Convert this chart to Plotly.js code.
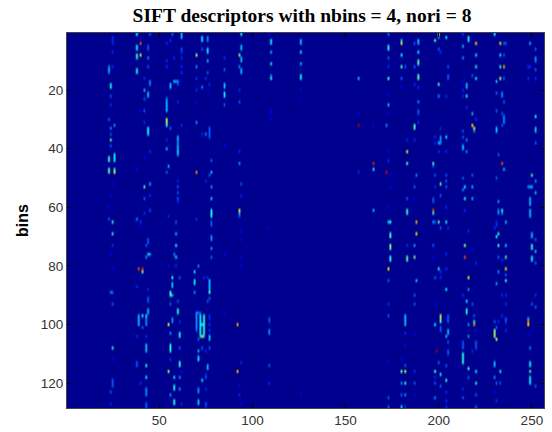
<!DOCTYPE html>
<html><head><meta charset="utf-8">
<script src="https://cdn.plot.ly/plotly-3.0.0.min.js"></script>
<style>html,body{margin:0;padding:0;background:#fff}</style></head>
<body><div id="c" style="width:552px;height:432px"></div>
<script>
const nCols = 256, nRows = 128;
const xTicks = [50,100,150,200,250];
const yTicks = [20,40,60,80,100,120];
// each spot: [descriptor column, bin row, value on a 0-10 scale]
const band23 = [[25,2,1.5],[25,3,1.5],[25,4,1.5],[25,7,1.5],[25,12,1.5],[23,12,2.5],[23,13,3],[23,14,2.5],[24,18,3.5],[24,19,4],[24,22,2],[24,25,1.5],[23,30,2],[26,32,2.5],[24,33,2.5],[24,35,2],[24,37,5],[24,39,2],[23,43,4],[23,44,4.2],[23,47,4.5],[23,48,4.5],[26,42,3.5],[26,43,3.5],[26,44,3.5],[26,47,3.5],[26,48,6],[25,52,1],[24,56,1],[23,60,1],[23,64,2],[25,65,4],[25,69,4],[25,73,1.5],[24,76,1],[25,81,1],[24,89,2.5],[25,89,2],[25,93,2],[25,108,4],[25,112,1],[25,119,2],[25,120,2],[25,121,2],[24,123,2],[24,127,1.5]];
const band38 = [[38,1,3.5],[38,5,3.5],[38,6,3.5],[38,8,4.5],[38,9,4],[38,13,4],[38,14,3.5],[40,4,8],[40,8,5.5],[44,5,2],[44,6,2],[44,9,2.5],[44,12,2],[45,1,2],[42,16,1.5],[45,17,2.5],[45,18,2.5],[42,20,3],[44,21,3],[44,22,3],[42,23,2],[42,27,2],[40,27,1],[42,31,1.5],[44,33,3.5],[44,34,4],[44,35,3.5],[45,41,1.5],[42,43,1],[38,47,1],[42,53,4.5],[45,52,3],[42,57,2],[45,56,1.5],[45,61,2],[42,62,1.5],[38,64,2.5],[40,65,1.5],[40,66,1],[44,71,2],[44,72,2],[43,73,2],[44,76,3],[45,76,3],[43,77,2.5],[39,81,8],[41,81,8.5],[41,82,4.5],[40,84,1],[38,87,1.5],[44,88,1.5],[44,91,2],[44,92,2],[44,95,3],[44,96,3],[41,97,3.5],[43,97,3.5],[39,97,3],[39,98,3],[39,99,3],[39,100,3],[43,98,2.5],[43,99,2.5],[43,100,2.5],[41,101,2],[38,104,1.5],[43,104,1.5],[43,107,3],[43,108,3],[43,109,3],[38,113,2],[38,114,2],[43,114,4],[43,118,3.5],[40,120,1.5],[43,122,2.5],[43,123,2.5],[43,124,2.5],[43,127,2],[43,128,2]];
const band54 = [[54,4,1.5],[54,10,1.5],[54,12,1.5],[54,23,2.5],[54,24,3],[54,25,3],[54,26,3],[54,27,3],[54,30,5.5],[54,31,5.5],[54,32,4],[54,37,1.5],[54,40,3],[55,46,3],[54,48,2],[56,18,3],[56,19,3],[56,3,1.5],[56,33,2],[57,1,2],[58,9,1.5],[58,17,3],[59,17,2.5],[60,17,2.5],[60,18,2],[60,24,1.5],[60,36,3],[60,37,3],[60,38,2.5],[60,39,3],[60,40,3],[60,41,3.5],[60,42,3],[60,51,1.5],[60,53,2],[60,55,2],[60,57,2],[60,58,1.5],[59,65,2],[62,1,3],[62,2,3],[62,6,2],[62,7,1.5],[62,9,1.5],[62,12,1.5],[62,14,1.5],[62,32,1.5],[55,63,1.5],[59,69,3],[59,73,3.5],[58,76,2.5],[59,77,3.5],[55,80,1],[59,80,1.5],[57,84,4],[61,84,2],[57,86,3],[57,87,3],[56,89,4],[56,90,4],[57,90,3],[56,93,2],[60,92,2],[60,95,4],[60,96,4],[57,98,2.5],[57,99,2.5],[55,100,6],[61,99,1.5],[56,103,2.5],[61,103,3.5],[61,104,3.5],[56,107,3.5],[56,108,4],[56,109,3.5],[56,112,1.5],[61,108,2],[61,114,4],[61,113,4],[55,116,5.5],[62,116,1],[58,118,3.5],[61,118,2.5],[58,122,4],[58,121,3.5],[61,122,2.5],[56,124,2.5],[58,126,4],[58,127,4],[62,127,1.5]];
const band70 = [[70,8,5.5],[70,12,2.5],[70,16,1.5],[70,20,1.5],[70,24,1],[70,31,2.5],[70,48,7.5],[70,64,1.5],[73,2,3.5],[73,3,3.5],[73,6,2],[73,19,2.5],[73,35,1.5],[75,35,2.5],[75,16,1.5],[75,51,1.5],[76,2,2.5],[76,3,2.5],[76,6,3.5],[76,7,3.5],[76,10,3],[76,14,2],[76,20,1],[77,18,1.5],[77,33,2],[77,34,2],[77,35,2],[77,36,2],[77,49,2],[78,44,2],[78,48,3],[78,53,2.5],[78,57,3],[78,61,3.5],[78,62,4],[78,63,3.5],[78,65,2],[78,66,2],[78,70,2.5],[78,71,2.5],[78,74,2.5],[78,77,2],[71,80,2.5],[69,82,3.5],[69,85,3.5],[69,86,3.5],[69,89,2.5],[77,85,3],[77,86,3],[77,87,3],[77,88,3],[77,89,4.5],[77,91,2],[76,92,2],[74,84,1.5],[76,84,1.5],[70,96,2.5],[70,97,2.5],[70,98,2.5],[70,99,2.5],[70,100,2.5],[70,101,2.5],[70,102,2],[71,96,2],[72,96,2],[72,97,3.5],[72,98,3.5],[72,99,3.5],[72,100,3.5],[72,101,3.5],[72,102,3.5],[72,103,3.5],[72,104,3],[74,97,4],[74,98,4],[74,99,4],[74,100,4],[74,101,4],[74,102,4],[74,103,4],[74,104,3],[73,100,3.5],[73,104,6.5],[77,97,1.5],[77,98,1.5],[77,100,1.5],[77,102,1.5],[77,104,3],[77,105,3],[77,108,2],[71,105,2],[73,108,2],[71,109,3],[71,112,3.5],[71,111,3],[75,109,1.5],[76,114,3],[76,115,3],[75,117,1.5],[73,119,3.5],[75,118,2],[71,122,2.5],[71,123,2.5],[75,122,1.5],[71,126,3],[71,127,3],[75,127,2],[75,128,1.5]];
const band85 = [[85,9,1.5],[85,13,2],[85,18,3],[85,19,3],[85,21,3.5],[85,22,3.5],[85,25,2],[85,39,1],[85,76,1],[85,96,0.7],[94,1,3.5],[94,5,3],[94,6,3],[94,9,3],[94,10,3],[94,13,3],[94,14,3],[93,8,5],[93,12,2.5],[93,20,1.5],[93,24,2],[93,41,1.5],[93,45,2.5],[93,61,6.5],[93,62,3],[94,52,2],[94,56,1.5],[93,63,2],[94,68,1],[94,71,1],[94,77,1],[94,80,1],[92,100,7],[92,116,7],[94,113,1.5],[93,121,1],[93,124,1.5],[94,127,1]];
const band110 = [[110,3,3.5],[110,4,3.5],[110,7,3],[110,11,4],[110,15,2.5],[110,16,4],[109,1,1],[110,27,1],[110,28,1],[110,30,1],[109,67,0.7],[109,98,2],[109,99,2],[109,102,2.5],[109,103,2.5],[109,114,2],[109,120,1.5],[126,3,3],[126,4,3],[126,7,3.5],[126,11,3],[126,15,3.5],[126,16,3.5],[126,20,1],[126,23,0.7],[126,124,1]];
const band157 = [[157,16,3],[157,28,1],[157,32,9.5],[157,48,1.5],[165,32,1],[165,45,8.5],[165,47,3.5],[165,61,3],[172,32,2.5],[172,48,9],[173,1,2],[173,5,3.5],[173,6,3.5],[173,9,2],[173,12,1.5],[173,16,4],[173,21,1],[173,25,3],[173,28,1],[173,41,1],[173,44,1.5],[173,60,1],[174,49,1],[174,53,1],[174,65,4],[173,65,3],[174,69,4],[174,70,4.5],[174,73,5],[174,74,4.5],[174,77,4],[174,78,4],[173,81,6.5],[173,85,2],[173,93,1.5],[173,97,2],[173,113,1],[173,125,2],[173,128,2]];
const band180 = [[180,3,3],[180,4,6.5],[180,8,3.5],[180,12,4.5],[180,16,2],[180,19,1],[182,12,2],[183,37,1.5],[183,41,6],[183,45,4.5],[183,57,2],[183,61,4],[183,62,4],[187,4,2],[187,12,2],[187,18,1.5],[187,32,4.5],[187,33,4.5],[187,37,1.5],[187,53,2],[187,57,1],[189,3,3],[189,4,3],[189,7,3.5],[189,10,4.5],[189,11,4.5],[189,15,4.5],[189,16,4.5],[189,19,1.5],[189,24,2.5],[189,27,2],[189,28,2],[189,31,1.5],[188,49,2.5],[188,65,7],[188,69,6.5],[188,85,3],[187,73,2.5],[187,77,5],[187,90,2],[187,93,2],[187,103,1],[187,116,1.5],[187,120,2],[187,124,1],[183,73,1.5],[183,77,4.5],[183,78,4.5],[182,97,3],[182,98,3],[182,99,3],[182,100,3],[182,103,1.5],[182,107,1],[182,116,5.5],[182,114,2],[182,120,4],[182,124,2.5],[182,128,1.5],[180,116,4.5],[180,120,2.5],[180,124,2],[180,128,3],[180,112,1]];
const band197 = [[197,45,4.5],[197,46,2],[197,57,2],[197,58,2],[197,61,8],[197,62,4],[197,65,2.5],[198,49,2],[198,53,1.5],[198,3,4.5],[198,36,1.5],[198,38,1.5],[197,73,2],[197,77,1],[198,65,2],[198,84,2],[198,100,3.5],[198,116,4.5],[198,118,1.5],[198,120,2],[198,125,2.5],[199,109,9.5],[199,93,1],[200,1,5.5],[200,2,2.5],[200,6,2],[200,18,4.5],[200,22,2.5],[200,38,3],[200,41,1.5],[200,65,4.5],[200,81,3.5],[200,113,2],[201,7,1.5],[201,33,1.5],[201,36,2.5],[201,37,2.5],[201,38,2.5],[201,52,4.5],[201,56,2],[201,67,2],[201,82,1.5],[201,84,1.5],[201,97,6.5],[201,98,4.5],[201,99,4.5],[201,101,2],[201,102,2],[201,117,3.5],[201,121,2],[204,2,3.5],[205,12,2],[205,15,2],[205,16,2],[204,22,1.5],[204,36,3.5],[204,41,1.5],[204,49,2],[204,51,2],[204,53,2],[204,60,1.5],[204,65,3.5],[204,76,1.5],[204,81,1.5],[204,88,3.5],[204,98,1],[205,67,1.5],[205,97,2],[205,98,2],[205,99,2],[204,104,3],[205,102,3],[205,103,3],[205,106,2],[205,109,2],[205,110,2],[204,114,2],[204,119,4],[204,123,1.5],[204,126,1.5],[204,128,1.5]];
const band213 = [[213,1,1.5],[213,5,3],[213,9,2.5],[213,17,1],[213,20,1.5],[213,22,1.5],[213,34,2],[213,36,2],[213,39,3],[213,40,3],[213,50,2],[213,54,2.5],[214,53,3.5],[214,57,4],[214,61,1.5],[215,18,3],[215,19,3],[215,22,4],[215,26,1.5],[215,37,2.5],[215,41,2.5],[216,2,3.5],[216,3,3.5],[218,15,2],[218,28,3],[218,32,6.5],[218,53,3],[218,57,3],[218,49,2],[219,33,6],[219,34,2.5],[220,4,6.5],[220,8,3.5],[220,12,4],[220,16,3.5],[220,30,1.5],[214,73,5],[214,77,8],[216,68,1.5],[216,84,6.5],[216,88,2.5],[216,100,2.5],[216,104,2.5],[216,115,4],[216,118,2],[215,92,3.5],[215,95,4],[215,96,4],[213,90,1.5],[213,106,2],[213,107,2],[213,108,2],[213,110,4],[213,111,4],[213,112,4],[213,113,4],[213,122,1.5],[213,125,2],[218,74,1],[218,93,2],[218,109,1.5],[219,97,2],[219,99,4],[219,100,7.5],[220,79,1.5],[220,102,1],[220,106,2],[220,107,2],[220,108,2],[220,116,3.5],[220,120,4],[220,124,2],[220,128,2]];
const band230 = [[230,1,3.5],[231,17,3],[231,21,2],[231,27,2],[231,33,3],[231,34,3],[231,50,2],[231,65,1.5],[232,42,2],[232,58,2.5],[232,61,2.5],[232,62,2.5],[233,4,6.5],[233,8,3.5],[233,12,4],[233,16,5.5],[234,21,2.5],[234,22,2.5],[234,28,2],[234,32,2],[234,45,8],[234,61,4],[234,62,2.5],[235,4,2],[235,8,2],[235,12,7],[235,16,2],[235,24,2],[235,29,2.5],[235,30,2.5],[235,31,2.5],[235,47,3],[236,4,2],[236,65,3],[230,99,2],[230,102,5],[230,103,5.5],[230,104,5],[230,113,3],[230,114,3],[230,118,2.5],[230,123,1],[230,67,1.5],[231,66,1.5],[231,70,3.5],[231,86,2.5],[231,101,2],[231,105,5.5],[231,126,1.5],[231,120,2],[232,69,4],[232,73,4],[232,77,2],[232,82,2.5],[232,99,1.5],[233,116,3.5],[233,120,2],[234,78,1.5],[234,90,1.5],[234,97,1.5],[236,73,3],[236,77,4.5],[236,81,6.5],[236,85,4],[236,83,2],[236,90,1.5],[236,93,1.5],[236,98,2],[236,99,2],[236,102,1.5]];
const band249 = [[249,4,3],[249,12,1.5],[249,53,2.5],[249,57,3],[249,58,3],[249,59,3],[249,61,3],[249,62,3],[249,63,3],[250,49,4.5],[250,53,3],[252,6,2],[252,9,2.5],[252,10,2.5],[252,13,2],[252,16,1.5],[252,29,3.5],[252,33,3],[252,34,3],[252,38,2],[252,51,2.5],[252,55,3],[248,12,1.5],[248,16,1.5],[248,53,2.5],[248,98,3],[248,99,7.5],[248,100,6.5],[249,103,1],[249,108,2.5],[249,113,3.5],[249,114,3.5],[249,116,4.5],[249,118,3.5],[249,119,3.5],[249,120,3.5],[250,69,3],[250,70,3],[250,73,4],[250,74,4],[250,77,3.5],[250,78,3.5],[250,93,2],[252,71,2],[252,75,3],[252,79,2],[252,90,1.5],[252,94,2],[252,121,2]];
const bands = [band23,band38,band54,band70,band85,band110,band157,band180,band197,band213,band230,band249];

const xs = Array.from({length:nCols},(_,i)=>i+1);
const ys = Array.from({length:nRows},(_,i)=>i+1);
const z = ys.map(()=>xs.map(()=>0));
bands.forEach(b=>b.forEach(s=>{ z[s[1]-1][s[0]-1] = s[2]; }));

const jet = [[0,'rgb(0,0,143)'],[0.111,'rgb(0,0,255)'],[0.365,'rgb(0,255,255)'],[0.5,'rgb(127,255,127)'],[0.625,'rgb(255,255,0)'],[0.875,'rgb(255,0,0)'],[1,'rgb(128,0,0)']];
const axisFont = {family:'Liberation Sans, Arial, sans-serif',size:13.5,color:'#333'};
Plotly.newPlot('c',[{type:'heatmap',x:xs,y:ys,z:z,zmin:0,zmax:10,colorscale:jet,showscale:false,hoverinfo:'skip'}],{
  width:552,height:432,paper_bgcolor:'#fff',plot_bgcolor:'rgb(0,0,143)',
  margin:{l:67,r:8,t:33,b:24,pad:0},
  title:{text:'SIFT descriptors with nbins = 4, nori = 8',x:302/552,xanchor:'center',y:1-15/432,yanchor:'middle',
    font:{family:'Liberation Serif, Times New Roman, serif',size:19.5,color:'#000',weight:700}},
  xaxis:{range:[0.5,256.5],tickvals:xTicks,ticks:'inside',ticklen:4,tickcolor:'#000',tickfont:axisFont,showgrid:false,zeroline:false,
    showline:true,linecolor:'#444',mirror:'ticks'},
  yaxis:{range:[128.5,0.5],tickvals:yTicks,ticks:'inside',ticklen:4,tickcolor:'#000',tickfont:axisFont,showgrid:false,zeroline:false,
    showline:true,linecolor:'#444',mirror:'ticks',
    title:{text:'bins',standoff:8,font:{family:'Liberation Sans, Arial, sans-serif',size:16,color:'#000',weight:700}}}
},{displayModeBar:false,staticPlot:true});
document.querySelectorAll('#c svg image').forEach(im=>im.style.imageRendering='auto');
</script></body></html>
